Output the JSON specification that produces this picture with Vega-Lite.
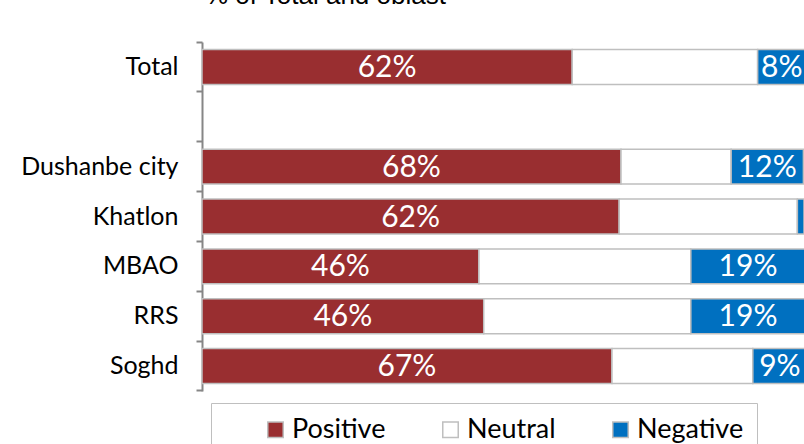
{
  "$schema": "https://vega.github.io/schema/vega-lite/v6.json",
  "width": 602,
  "height": 349,
  "autosize": {"type": "none"},
  "padding": {"left": 202, "top": 42, "right": 0, "bottom": 53},
  "config": {"view": {"stroke": null}, "font": "Lato"},
  "title": {"text": "% of Total and oblast", "anchor": "start", "frame": "group", "orient": "top", "offset": 30, "dy": 9, "fontSize": 26, "font": "Liberation Sans", "fontWeight": "normal", "color": "#000000", "dx": 3},
  "data": {
    "values": [
      {"region": "Total", "sentiment": "Positive", "ord": 1, "value": 61.5, "label": "62%"},
      {"region": "Total", "sentiment": "Neutral", "ord": 2, "value": 30.8, "label": ""},
      {"region": "Total", "sentiment": "Negative", "ord": 3, "value": 8, "label": "8%"},
      {"region": "Dushanbe city", "sentiment": "Positive", "ord": 1, "value": 69.6, "label": "68%"},
      {"region": "Dushanbe city", "sentiment": "Neutral", "ord": 2, "value": 18.3, "label": ""},
      {"region": "Dushanbe city", "sentiment": "Negative", "ord": 3, "value": 12, "label": "12%"},
      {"region": "Khatlon", "sentiment": "Positive", "ord": 1, "value": 69.3, "label": "62%"},
      {"region": "Khatlon", "sentiment": "Neutral", "ord": 2, "value": 29.6, "label": ""},
      {"region": "Khatlon", "sentiment": "Negative", "ord": 3, "value": 1.1, "label": ""},
      {"region": "MBAO", "sentiment": "Positive", "ord": 1, "value": 46.0, "label": "46%"},
      {"region": "MBAO", "sentiment": "Neutral", "ord": 2, "value": 35.2, "label": ""},
      {"region": "MBAO", "sentiment": "Negative", "ord": 3, "value": 19, "label": "19%"},
      {"region": "RRS", "sentiment": "Positive", "ord": 1, "value": 46.8, "label": "46%"},
      {"region": "RRS", "sentiment": "Neutral", "ord": 2, "value": 34.4, "label": ""},
      {"region": "RRS", "sentiment": "Negative", "ord": 3, "value": 19, "label": "19%"},
      {"region": "Soghd", "sentiment": "Positive", "ord": 1, "value": 68.1, "label": "67%"},
      {"region": "Soghd", "sentiment": "Neutral", "ord": 2, "value": 23.4, "label": ""},
      {"region": "Soghd", "sentiment": "Negative", "ord": 3, "value": 9, "label": "9%"}
    ]
  },
  "encoding": {
    "y": {
      "field": "region",
      "type": "nominal",
      "title": null,
      "sort": null,
      "scale": {"domain": ["Total", " ", "Dushanbe city", "Khatlon", "MBAO", "RRS", "Soghd"], "paddingInner": 0, "paddingOuter": 0},
      "axis": {
        "bandPosition": 1,
        "tickExtra": true,
        "domainColor": "#868686",
        "domainWidth": 2,
        "tickColor": "#868686",
        "tickWidth": 2,
        "tickSize": 6,
        "labelFont": "Lato",
        "labelFontSize": 25,
        "labelColor": "#000000",
        "labelPadding": 18,
        "labelLimit": 300
      }
    }
  },
  "layer": [
    {
      "mark": {"type": "bar", "height": {"band": 0.7}, "stroke": "#BFBFBF", "strokeWidth": 1.5, "clip": true},
      "encoding": {
        "x": {"field": "value", "type": "quantitative", "stack": "zero", "scale": {"domain": [0, 100]}, "axis": null},
        "order": {"field": "ord"},
        "color": {
          "field": "sentiment",
          "type": "nominal",
          "sort": null,
          "scale": {"domain": ["Positive", "Neutral", "Negative"], "range": ["#992E30", "#FFFFFF", "#0070C0"]},
          "legend": {
            "orient": "none",
            "legendX": 9,
            "legendY": 361,
            "direction": "horizontal",
            "symbolType": "square",
            "symbolSize": 240,
            "symbolStrokeColor": "#BFBFBF",
            "symbolStrokeWidth": 1.5,
            "labelFont": "Lato",
            "labelFontSize": 27,
            "labelColor": "#000000",
            "labelOffset": 3,
            "columnPadding": 51,
            "padding": 13,
            "strokeColor": "#BFBFBF",
            "fillColor": "#FFFFFF",
            "title": " ",
            "titleOrient": "left",
            "titleFontSize": 1,
            "titlePadding": 38
          }
        }
      }
    },
    {
      "mark": {"type": "text", "color": "#FFFFFF", "fontSize": 30, "font": "Lato", "clip": true, "dy": 1},
      "encoding": {
        "x": {"field": "value", "type": "quantitative", "stack": "zero", "bandPosition": 0.5},
        "order": {"field": "ord"},
        "text": {"field": "label"}
      }
    }
  ]
}
